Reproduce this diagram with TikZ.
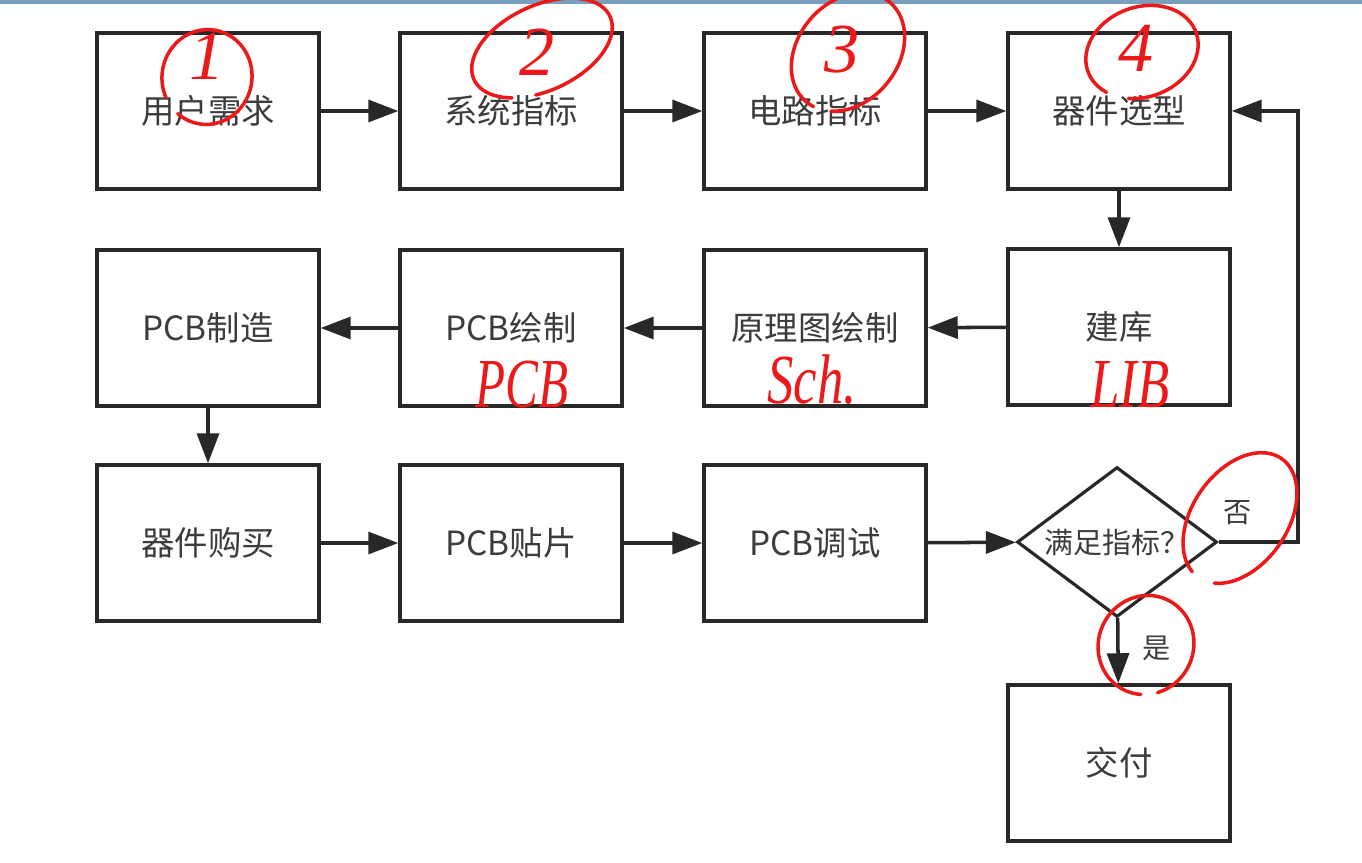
\documentclass[tikz,border=0pt]{standalone}
\usepackage{fontspec}
\setmainfont{Noto Sans CJK SC}
\newfontfamily\handfont{Liberation Serif}
\usetikzlibrary{arrows.meta,shapes.geometric}
\definecolor{linecol}{RGB}{40,40,40}
\definecolor{txtcol}{RGB}{60,60,60}
\definecolor{pencol}{RGB}{235,25,25}
\definecolor{barcol}{RGB}{120,160,190}

\begin{document}
\begin{tikzpicture}[x=0.02cm,y=-0.02cm,
  blk/.style={draw=linecol, line width=2pt, minimum width=4.44cm, minimum height=3.12cm,
    inner sep=0pt, text=txtcol, font=\fontsize{19}{22}\selectfont},
  chk/.style={diamond, draw=linecol, line width=1.8pt, minimum width=4cm, minimum height=3cm,
    inner sep=0pt, aspect=1.33, text=txtcol, font=\fontsize{16.5}{19}\selectfont},
  lbl/.style={text=txtcol, font=\fontsize{16}{19}\selectfont},
  arr/.style={draw=linecol, line width=2pt, -{Triangle[length=0.6cm,width=0.44cm]}},
  pen/.style={draw=pencol, line width=2pt, line cap=round},
  hand/.style={text=pencol, inner sep=0pt, font=\handfont\itshape\fontsize{40}{44}\selectfont}]
  \useasboundingbox (0,0) rectangle (1362,862);
  \fill[barcol] (0,0) rectangle (1362,4);

  % boxes
  \foreach \n/\x/\y/\t in {need/208/111/用户需求, spec/511/111/系统指标, circ/815/111/电路指标,
      part/1119/111/器件选型, lib/1119/327/建库, sch/815/328/原理图绘制,
      pcb/511/328/PCB绘制, fab/208/328/PCB制造, buy/208/543/器件购买,
      smt/511/543/PCB贴片, test/815/543/PCB调试, done/1119/763/交付}{
    \node[blk] (\n) at (\x,\y) {\t};
  }
  \node[chk] (ok) at (1117,542) {满足指标？};

  % flow
  \foreach \a/\b in {need/spec, spec/circ, circ/part, part/lib, lib/sch, sch/pcb,
      pcb/fab, fab/buy, buy/smt, smt/test, test/ok, ok/done}{
    \draw[arr] (\a) -- (\b);
  }
  \coordinate (back) at (1298,542);
  \draw[arr] (ok.east) -- (back) |- (part.east);
  \node[lbl] (no) at (1238,513) {否};
  \node[lbl] (yes) at (1157,648) {是};

  % red pen notes
  \node[hand] (n1) at (207,56) {1};
  \node[hand] (n2) at (537,52) {2};
  \node[hand] (n3) at (842,50) {3};
  \node[hand] (n4) at (1136,48) {4};
  \draw[pen, rotate around={-10:(207,77)}] (207,77) ++(-120:0.9cm and 0.95cm)
    arc[start angle=-120, end angle=215, x radius=0.9cm, y radius=0.95cm];
  \draw[pen, rotate around={25:(542,48)}] (542,48) ++(-110:1.5cm and 0.85cm)
    arc[start angle=-110, end angle=230, x radius=1.5cm, y radius=0.85cm];
  \draw[pen, rotate around={50:(848,52)}] (848,52) ++(-150:1.3cm and 1.0cm)
    arc[start angle=-150, end angle=190, x radius=1.3cm, y radius=1.0cm];
  \draw[pen, rotate around={20:(1142,52)}] (1142,52) ++(-120:1.15cm and 0.9cm)
    arc[start angle=-120, end angle=215, x radius=1.15cm, y radius=0.9cm];
  \node[hand] (t1) at (522,385) {\scalebox{0.7}[1]{PCB}};
  \node[hand] (t2) at (812,380) {\scalebox{0.75}[1]{Sch.}};
  \node[hand] (t3) at (1130,385) {\scalebox{0.75}[1]{LIB}};
  \draw[pen, rotate around={55:(1240,518)}] (1240,518) ++(-160:1.45cm and 0.95cm)
    arc[start angle=-160, end angle=170, x radius=1.45cm, y radius=0.95cm];
  \draw[pen, rotate around={65:(1146,645)}] (1146,645) ++(-140:1.0cm and 0.95cm)
    arc[start angle=-140, end angle=200, x radius=1.0cm, y radius=0.95cm];
\end{tikzpicture}
\end{document}
